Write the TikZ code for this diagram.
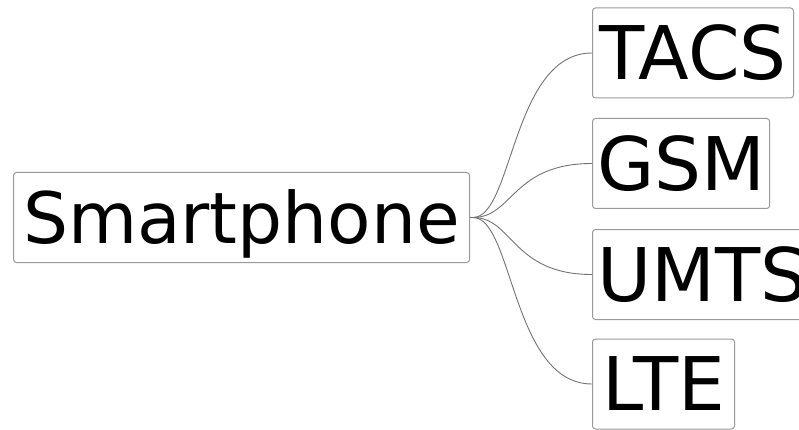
\documentclass[tikz,border=0pt]{standalone}
\usepackage{fontspec}
\setmainfont{DejaVu Sans}
\begin{document}
\begin{tikzpicture}[x=1pt,y=-1pt,
  box/.style={draw=black!40, rounded corners=3pt, line width=1pt,
    font=\fontsize{74}{74}\selectfont, inner xsep=4.5pt, inner ysep=0pt,
    text height=53.9pt, text depth=0pt, minimum height=90pt, anchor=west},
  link/.style={draw=black!55, line width=0.9pt}]
\useasboundingbox (0,0) rectangle (799,430);
\node[box, minimum width=456pt, inner xsep=0pt, font=\fontsize{71}{71}\selectfont,
  text height=51.8pt] (sp) at (13,217.5) {Smartphone};
\node[box, minimum width=201pt] (tacs) at (592,53) {TACS};
\node[box, minimum width=175pt] (gsm) at (592,163.5) {GSM};
\node[box] (umts) at (592,274.5) {UMTS};
\node[box, minimum width=142pt] (lte) at (592,384) {LTE};
\draw[link] (sp.east) -- ++(3,0) .. controls +(40,0) and +(-80,0) .. (tacs.west);
\draw[link] (sp.east) -- ++(3,0) .. controls +(40,0) and +(-80,0) .. (gsm.west);
\draw[link] (sp.east) -- ++(3,0) .. controls +(40,0) and +(-80,0) .. (umts.west);
\draw[link] (sp.east) -- ++(3,0) .. controls +(40,0) and +(-80,0) .. (lte.west);
\end{tikzpicture}
\end{document}
